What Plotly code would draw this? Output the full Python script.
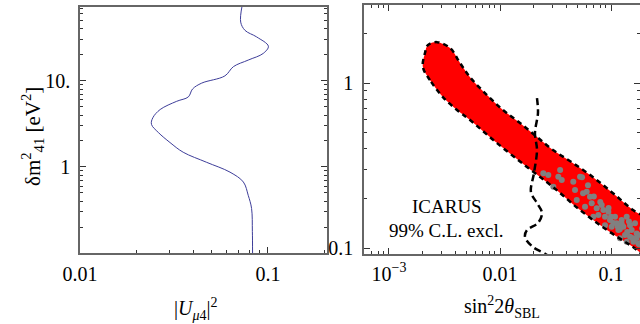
import plotly.graph_objects as go

# ---------------- data ----------------
# left panel: |U_mu4|^2 bound vs delta m^2_41
u_mu4_sq = [0.0729, 0.0716, 0.0755, 0.0871, 0.1005, 0.0944, 0.0785, 0.0655, 0.0590,
            0.0444, 0.0397, 0.0377, 0.0327, 0.0267, 0.0244, 0.0240, 0.0261, 0.0301,
            0.0354, 0.0472, 0.0628, 0.0740, 0.0785, 0.0818, 0.0826, 0.0828]
dm2_left = [75.0, 48.0, 38.5, 32.3, 25.2, 20.8, 17.4, 14.6, 11.4,
            9.4, 8.03, 6.5, 5.78, 4.64, 3.72, 3.12, 2.51, 1.92,
            1.48, 1.13, 0.869, 0.667, 0.468, 0.329, 0.177, 0.098]

# right panel: allowed band outline (sin^2 2theta, dm^2)
band_x = [0.00306, 0.00234, 0.00202, 0.00211, 0.00224, 0.00270, 0.00355, 0.00437, 0.00537,
          0.00764, 0.01064, 0.01514, 0.02153, 0.0300, 0.0455, 0.0689, 0.1042, 0.1578, 0.249,
          0.249, 0.1578, 0.0920, 0.0526, 0.0300, 0.0175, 0.0094, 0.00537, 0.0041, 0.00306]
band_y = [0.822, 1.042, 1.250, 1.521, 1.698, 1.770, 1.629, 1.321, 1.086,
          0.845, 0.686, 0.573, 0.471, 0.393, 0.327, 0.269, 0.215, 0.170, 0.138,
          0.0822, 0.1014, 0.1285, 0.170, 0.2344, 0.310, 0.4325, 0.597, 0.686, 0.822]

# ICARUS 99% C.L. exclusion curve
icarus_x = [0.02153, 0.02198, 0.02065, 0.02153, 0.02023, 0.01901, 0.02153, 0.02388,
            0.02198, 0.0175, 0.0168, 0.0198, 0.0265, 0.0316]
icarus_y = [0.811, 0.658, 0.498, 0.393, 0.285, 0.218, 0.1875, 0.163,
            0.1419, 0.1285, 0.1167, 0.1014, 0.0908, 0.0794]

# grey points
grey_x = [0.02455, 0.02723, 0.0302, 0.0348, 0.0335, 0.0360, 0.0457, 0.0526, 0.0474, 0.0491,
          0.0604, 0.0647, 0.0670, 0.0583, 0.0743, 0.0824, 0.0853, 0.0769, 0.0883, 0.0946,
          0.0979, 0.1086, 0.1125, 0.1247, 0.1291, 0.1384, 0.1483, 0.1535, 0.1644, 0.1702,
          0.1483, 0.1337, 0.1164, 0.1014, 0.1589, 0.1762, 0.1384, 0.1205, 0.0883, 0.0693,
          0.0548, 0.1905, 0.1905, 0.1995, 0.0620, 0.0560, 0.0700, 0.0800, 0.0950, 0.1050,
          0.1150, 0.1250, 0.1400, 0.1550, 0.1700, 0.1850, 0.1450, 0.1200, 0.1000, 0.1800]
grey_y = [0.2838, 0.2767, 0.2355, 0.2972, 0.2704, 0.2582, 0.2523, 0.2704, 0.2249, 0.1954,
          0.2193, 0.2046, 0.1866, 0.1778, 0.1742, 0.1824, 0.1698, 0.1585, 0.1549, 0.1660,
          0.1479, 0.1549, 0.1413, 0.1479, 0.1346, 0.1549, 0.1377, 0.1285, 0.1413, 0.1227,
          0.1172, 0.1199, 0.1285, 0.1346, 0.1091, 0.1067, 0.1091, 0.1146, 0.1377, 0.1549,
          0.2690, 0.1318, 0.1096, 0.1000, 0.2400, 0.2150, 0.2050, 0.1900, 0.1750, 0.1420,
          0.1350, 0.1400, 0.1250, 0.1150, 0.1150, 0.1200, 0.1450, 0.1300, 0.1550, 0.1050]

# tick values / labels
left_x_ticks = [0.01, 0.1]
left_x_labels = ["0.01", "0.1"]
left_x_minor = [0.02, 0.03, 0.04, 0.05, 0.06, 0.07, 0.08, 0.09, 0.2]
left_y_ticks = [1, 10]
left_y_labels = ["1", "10."]
left_y_minor = [0.2, 0.3, 0.4, 0.5, 0.6, 0.7, 0.8, 0.9, 2, 3, 4, 5, 6, 7, 8, 9, 20, 30, 40, 50, 60, 70]
right_x_ticks = [0.001, 0.01, 0.1]
right_x_labels = ["10<sup>\u22123</sup>", "0.01", "0.1"]
right_x_minor = [0.0006, 0.0007, 0.0008, 0.0009, 0.002, 0.003, 0.004, 0.005, 0.006, 0.007,
                 0.008, 0.009, 0.02, 0.03, 0.04, 0.05, 0.06, 0.07, 0.08, 0.09]
right_y_ticks = [0.1, 1]
right_y_labels = ["0.1", "1"]
right_y_minor = [0.2, 0.3, 0.4, 0.5, 0.6, 0.7, 0.8, 0.9, 2, 3]

# ---------------- figure ----------------
FONT = "Liberation Serif"
FRAME = "#666666"

fig = go.Figure()

fig.add_trace(go.Scatter(x=u_mu4_sq, y=dm2_left, mode="lines", line=dict(color="#3d3d99", width=1, shape="spline"),
                         xaxis="x", yaxis="y", showlegend=False, hoverinfo="skip"))

fig.add_trace(go.Scatter(x=band_x, y=band_y, mode="lines", fill="toself", fillcolor="#ff0000",
                         line=dict(color="rgba(0,0,0,0)", width=0, shape="spline"),
                         xaxis="x2", yaxis="y2", showlegend=False, hoverinfo="skip"))
fig.add_trace(go.Scatter(x=grey_x, y=grey_y, mode="markers", marker=dict(color="#808080", size=6),
                         xaxis="x2", yaxis="y2", showlegend=False, hoverinfo="skip"))
fig.add_trace(go.Scatter(x=band_x, y=band_y, mode="lines",
                         line=dict(color="black", width=2.5, dash="5px,4px", shape="spline"),
                         xaxis="x2", yaxis="y2", showlegend=False, hoverinfo="skip"))
fig.add_trace(go.Scatter(x=icarus_x, y=icarus_y, mode="lines",
                         line=dict(color="black", width=2.5, dash="7px,4px", shape="spline"),
                         xaxis="x2", yaxis="y2", showlegend=False, hoverinfo="skip"))

tickfont = dict(family=FONT, size=20, color="black")

def axis(dom, rng, tv, tt, minor, mirror, anchor, standoff):
    return dict(type="log", domain=dom, range=rng, tickvals=tv, ticktext=tt,
                ticks="inside", ticklen=6, tickwidth=1, tickcolor="#333333",
                minor=dict(tickvals=minor, ticks="inside", ticklen=3, tickwidth=1, tickcolor="#333333"),
                showline=True, linecolor=FRAME, linewidth=1.5, mirror=mirror,
                showgrid=False, zeroline=False, tickfont=tickfont, anchor=anchor,
                ticklabelstandoff=standoff, automargin=False)

fig.update_layout(
    template="none",
    width=640, height=324,
    margin=dict(l=0, r=0, t=0, b=0, autoexpand=False),
    paper_bgcolor="white", plot_bgcolor="white",
    showlegend=False,
    xaxis=axis([80/640, 327/640], [-2.0, -0.686], left_x_ticks, left_x_labels, left_x_minor, True, "y", 2),
    yaxis=axis([71/324, 317/324], [-1.0, 1.857], left_y_ticks, left_y_labels, left_y_minor, "ticks", "x", 4),
    xaxis2=axis([364/640, 1.0], [-3.225, -0.739], right_x_ticks, right_x_labels, right_x_minor, "ticks", "y2", 1),
    yaxis2=axis([70/324, 319/324], [-1.036, 0.473], right_y_ticks, right_y_labels, right_y_minor, "ticks", "x2", 5),
    annotations=[
        dict(text="\u03b4m<sup>2</sup><sub>41</sub> [eV<sup>2</sup>]", x=32/640, y=1-137/324, xref="paper", yref="paper",
             textangle=-90, showarrow=False, font=dict(family=FONT, size=21, color="black"),
             xanchor="center", yanchor="middle"),
        dict(text="|<i>U</i><sub><i>\u03bc</i>4</sub>|<sup>2</sup>", x=196/640, y=1-309/324, xref="paper", yref="paper",
             showarrow=False, font=dict(family=FONT, size=20, color="black"), xanchor="center", yanchor="middle"),
        dict(text="sin<sup>2</sup>2<i>\u03b8</i><sub>SBL</sub>", x=502/640, y=1/324, xref="paper", yref="paper",
             showarrow=False, font=dict(family=FONT, size=20, color="black"), xanchor="center", yanchor="bottom"),
        dict(text="ICARUS", x=447/640, y=1-207/324, xref="paper", yref="paper",
             showarrow=False, font=dict(family=FONT, size=19, color="black"), xanchor="center", yanchor="middle"),
        dict(text="99% C.L. excl.", x=446/640, y=1-230/324, xref="paper", yref="paper",
             showarrow=False, font=dict(family=FONT, size=19, color="black"), xanchor="center", yanchor="middle"),
    ],
)

fig.write_html("out.html")
